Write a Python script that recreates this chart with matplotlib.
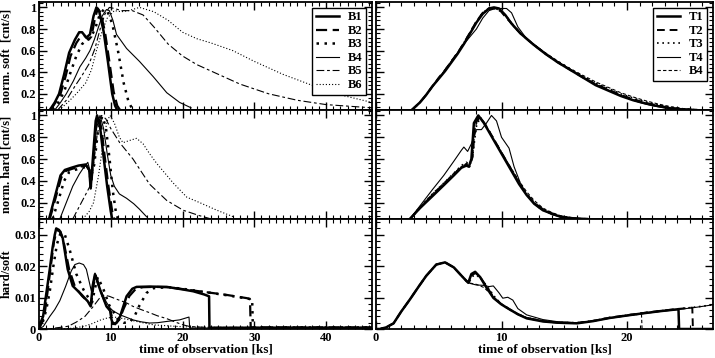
import matplotlib
matplotlib.use("Agg")
import matplotlib.pyplot as plt
from matplotlib.ticker import MultipleLocator

plt.rcParams["font.family"] = ["Liberation Serif", "DejaVu Serif"]
plt.rcParams["font.weight"] = "bold"
plt.rcParams["font.size"] = 9

# ============================================================
# Data: left column (B runs), time in ks
# ============================================================
b_names = ["B1", "B2", "B3", "B4", "B5", "B6"]

# normalised soft count rate
b1_soft_t = [1.5, 2.2, 2.8, 3.5, 4.2, 5.0, 5.6, 6.0, 6.6, 7.1, 7.6, 8.0, 8.4, 9.0, 9.6, 10.2, 10.6, 10.9]
b1_soft   = [0.05, 0.12, 0.2, 0.38, 0.58, 0.7, 0.77, 0.77, 0.72, 0.75, 0.92, 1.0, 0.96, 0.78, 0.5, 0.2, 0.09, 0.05]
b2_soft_t = [1.6, 2.3, 3.0, 3.7, 4.4, 5.2, 5.8, 6.3, 6.9, 7.3, 7.8, 8.2, 8.6, 9.2, 9.8, 10.4, 10.9, 11.3]
b2_soft   = [0.05, 0.12, 0.2, 0.36, 0.55, 0.67, 0.73, 0.74, 0.7, 0.73, 0.9, 0.99, 0.95, 0.77, 0.5, 0.22, 0.09, 0.05]
b3_soft_t = [1.9, 2.7, 3.5, 4.3, 5.2, 6.0, 6.6, 7.2, 7.8, 8.4, 9.0, 9.5, 10.2, 11.0, 11.8, 12.5, 13.1]
b3_soft   = [0.05, 0.12, 0.22, 0.38, 0.55, 0.66, 0.7, 0.72, 0.8, 0.92, 0.98, 0.97, 0.85, 0.6, 0.3, 0.12, 0.05]
b4_soft_t = [2.2, 3.0, 3.8, 4.8, 5.7, 6.5, 7.1, 7.7, 8.2, 8.8, 9.4, 9.8, 10.3, 10.8, 12.2, 14.0, 15.9, 17.8, 19.6, 21.2]
b4_soft   = [0.05, 0.12, 0.2, 0.32, 0.45, 0.53, 0.6, 0.7, 0.8, 0.92, 0.98, 0.97, 0.88, 0.75, 0.62, 0.5, 0.36, 0.21, 0.12, 0.07]
b5_soft_t = [2.6, 3.8, 5.0, 6.0, 7.0, 7.8, 8.6, 9.2, 9.8, 10.5, 11.5, 13.0, 14.5, 16.0, 18.0, 20.0, 22.0, 25.0, 28.0, 32.0, 36.0, 40.0, 46.4]
b5_soft   = [0.05, 0.14, 0.27, 0.37, 0.48, 0.62, 0.82, 0.94, 1.0, 0.99, 0.97, 0.97, 0.93, 0.82, 0.66, 0.55, 0.47, 0.38, 0.29, 0.2, 0.14, 0.1, 0.07]
b6_soft_t = [2.8, 4.0, 5.2, 6.5, 7.3, 8.0, 8.8, 9.5, 10.5, 11.5, 12.5, 14.0, 16.0, 18.0, 20.0, 22.0, 24.0, 27.0, 30.0, 34.0, 38.0, 42.0, 46.4]
b6_soft   = [0.05, 0.12, 0.2, 0.3, 0.42, 0.6, 0.78, 0.9, 0.97, 0.96, 0.97, 1.0, 0.96, 0.88, 0.77, 0.71, 0.67, 0.6, 0.5, 0.38, 0.28, 0.19, 0.12]

# normalised hard count rate
b1_hard_t = [1.4, 2.2, 3.0, 3.6, 4.5, 5.5, 6.5, 7.0, 7.2, 7.5, 7.9, 8.1, 8.5, 9.0, 9.5, 10.0, 10.2]
b1_hard   = [0.05, 0.25, 0.45, 0.5, 0.52, 0.54, 0.55, 0.5, 0.33, 0.6, 0.95, 1.0, 0.9, 0.62, 0.35, 0.12, 0.05]
b2_hard_t = [1.5, 2.3, 3.1, 3.7, 4.6, 5.6, 6.6, 7.0, 7.25, 7.6, 8.0, 8.3, 8.7, 9.2, 9.7, 10.2, 10.5]
b2_hard   = [0.05, 0.24, 0.43, 0.49, 0.51, 0.53, 0.54, 0.5, 0.35, 0.6, 0.93, 0.99, 0.88, 0.6, 0.34, 0.12, 0.05]
b3_hard_t = [1.9, 2.7, 3.5, 4.2, 5.0, 6.0, 6.8, 7.3, 7.7, 8.2, 8.8, 9.3, 9.8, 10.3, 10.7, 11.0]
b3_hard   = [0.05, 0.22, 0.4, 0.48, 0.5, 0.52, 0.53, 0.45, 0.55, 0.85, 0.99, 0.9, 0.62, 0.3, 0.12, 0.05]
b4_hard_t = [2.9, 3.8, 4.7, 5.6, 6.3, 6.8, 7.0, 7.2, 7.5, 8.0, 8.5, 9.0, 9.5, 10.0, 10.5, 11.2, 12.2, 13.2, 14.0, 15.0]
b4_hard   = [0.05, 0.2, 0.35, 0.46, 0.53, 0.57, 0.52, 0.33, 0.55, 0.88, 1.0, 0.88, 0.65, 0.45, 0.35, 0.28, 0.24, 0.19, 0.14, 0.07]
b5_hard_t = [4.7, 5.5, 6.3, 7.1, 7.6, 8.1, 8.7, 9.3, 10.0, 11.25, 13.1, 15.4, 17.8, 20.1, 22.4, 24.0]
b5_hard   = [0.05, 0.15, 0.25, 0.35, 0.55, 0.82, 1.0, 0.97, 0.88, 0.75, 0.6, 0.37, 0.22, 0.13, 0.08, 0.05]
b6_hard_t = [6.1, 7.0, 7.6, 8.3, 9.0, 9.5, 9.9, 10.5, 11.2, 11.7, 12.6, 13.6, 14.5, 15.4, 16.4, 18.7, 20.6, 22.4, 24.8, 27.1]
b6_hard   = [0.05, 0.12, 0.2, 0.45, 0.78, 0.95, 1.0, 0.93, 0.8, 0.75, 0.77, 0.79, 0.74, 0.65, 0.56, 0.38, 0.25, 0.2, 0.13, 0.07]

# hardness ratio
b1_hr_t = [0.0, 0.3, 0.57, 1.0, 1.5, 1.9, 2.2, 2.4, 2.8, 3.3, 4.0, 4.7, 5.9, 6.8, 7.2, 7.5, 7.8, 8.5, 9.4, 9.9, 10.1, 10.3, 10.8, 11.3, 12.2, 13.0, 13.6, 15.4, 17.8, 20.0, 21.5, 23.0, 23.7, 23.75, 46.4]
b1_hr   = [0.0, 0.0025, 0.004, 0.011, 0.019, 0.026, 0.030, 0.032, 0.0315, 0.029, 0.019, 0.0137, 0.011, 0.0088, 0.0072, 0.014, 0.0174, 0.0126, 0.0072, 0.006, 0.003, 0.0016, 0.002, 0.004, 0.0104, 0.0128, 0.0134, 0.0135, 0.0134, 0.0126, 0.012, 0.011, 0.0104, 0.0004, 0.0004]
b2_hr_t = [0.0, 0.4, 0.8, 1.2, 1.7, 2.1, 2.5, 3.0, 3.5, 4.2, 5.0, 6.0, 6.9, 7.25, 7.6, 7.9, 8.6, 9.5, 10.0, 10.3, 10.6, 11.2, 11.8, 12.6, 13.5, 14.5, 16.0, 18.0, 20.0, 23.0, 26.0, 29.0, 29.4, 29.5, 46.4]
b2_hr   = [0.0, 0.002, 0.005, 0.012, 0.021, 0.028, 0.0315, 0.031, 0.027, 0.019, 0.0135, 0.0105, 0.0085, 0.0075, 0.014, 0.017, 0.012, 0.007, 0.0055, 0.002, 0.0015, 0.003, 0.0065, 0.0105, 0.0128, 0.0133, 0.0134, 0.0133, 0.0127, 0.0118, 0.0109, 0.0098, 0.0095, 0.0005, 0.0005]
b3_hr_t = [0.0, 0.5, 1.0, 1.5, 2.0, 2.5, 3.0, 3.6, 4.3, 5.2, 6.2, 7.0, 7.4, 7.8, 8.2, 9.0, 9.8, 10.5, 11.0, 11.8, 12.5, 13.2, 14.0, 15.0, 16.0, 18.0, 20.0, 23.0, 26.0, 29.0, 29.7, 29.8, 46.4]
b3_hr   = [0.0, 0.002, 0.006, 0.012, 0.02, 0.027, 0.0305, 0.03, 0.025, 0.0175, 0.0125, 0.0095, 0.0085, 0.013, 0.0165, 0.0125, 0.0075, 0.005, 0.003, 0.002, 0.002, 0.0035, 0.0075, 0.0115, 0.013, 0.0133, 0.0128, 0.0118, 0.0108, 0.0097, 0.0094, 0.0005, 0.0005]
b4_hr_t = [0.0, 0.6, 1.5, 2.2, 2.9, 3.7, 4.5, 5.0, 5.6, 6.2, 6.6, 7.0, 7.3, 7.8, 8.5, 9.4, 9.9, 10.3, 11.3, 12.2, 13.1, 14.2, 15.4, 16.5, 17.8, 19.6, 20.6, 20.9, 21.0, 46.4]
b4_hr   = [0.0, 0.0008, 0.004, 0.0062, 0.009, 0.0135, 0.0185, 0.0205, 0.021, 0.0205, 0.019, 0.015, 0.012, 0.0178, 0.0125, 0.0085, 0.0067, 0.0058, 0.0045, 0.0037, 0.0029, 0.0023, 0.0019, 0.002, 0.0024, 0.0029, 0.0036, 0.0038, 0.0003, 0.0003]
b5_hr_t = [0.0, 1.5, 2.5, 3.3, 4.1, 5.2, 6.4, 7.5, 8.5, 9.1, 9.8, 10.8, 12.2, 13.1, 14.2, 15.4, 16.5, 17.8, 19.0, 20.1, 21.0, 22.4, 24.0, 46.4]
b5_hr   = [0.0, 0.0, 0.0004, 0.0006, 0.0009, 0.0022, 0.004, 0.007, 0.01, 0.0108, 0.0104, 0.0095, 0.0083, 0.0072, 0.0062, 0.0052, 0.0042, 0.0033, 0.0022, 0.0013, 0.0008, 0.0006, 0.0005, 0.0005]
b6_hr_t = [0.0, 3.0, 5.0, 6.5, 7.5, 8.5, 9.5, 10.5, 12.0, 14.0, 16.0, 20.0, 25.0, 46.4]
b6_hr   = [0.0, 0.0, 0.0003, 0.001, 0.0018, 0.0028, 0.0035, 0.0038, 0.0032, 0.0022, 0.0013, 0.0007, 0.0005, 0.0005]

# ============================================================
# Data: right column (T runs + B4 reference)
# ============================================================
t_names = ["T1", "T2", "T3", "T4", "B4"]

t1_soft_t = [2.85, 3.5, 4.0, 4.5, 5.0, 5.5, 6.0, 6.5, 7.0, 7.5, 8.0, 8.5, 9.0, 9.4, 9.8, 10.3, 10.8, 11.5, 12.5, 13.5, 14.5, 15.5, 16.5, 17.5, 18.5, 19.5, 20.5, 21.5, 22.5, 23.5, 24.5, 25.5]
t1_soft   = [0.05, 0.12, 0.19, 0.27, 0.34, 0.41, 0.49, 0.57, 0.66, 0.76, 0.86, 0.94, 0.99, 1.0, 0.99, 0.93, 0.85, 0.76, 0.66, 0.57, 0.49, 0.42, 0.35, 0.28, 0.23, 0.18, 0.14, 0.11, 0.085, 0.065, 0.055, 0.05]
t2_soft_t = [2.85, 3.5, 4.0, 4.5, 5.0, 5.5, 6.0, 6.5, 7.0, 7.5, 8.0, 8.5, 9.0, 9.5, 9.9, 10.4, 10.9, 11.5, 12.5, 13.5, 14.5, 15.5, 16.5, 17.5, 18.5, 19.5, 20.5, 21.5, 22.5, 23.5, 24.5, 25.5]
t2_soft   = [0.05, 0.12, 0.19, 0.27, 0.35, 0.42, 0.5, 0.58, 0.67, 0.77, 0.87, 0.95, 0.99, 0.99, 0.97, 0.9, 0.84, 0.76, 0.66, 0.57, 0.49, 0.42, 0.35, 0.29, 0.24, 0.19, 0.15, 0.115, 0.09, 0.07, 0.057, 0.05]
t3_soft_t = [2.85, 3.5, 4.0, 4.5, 5.0, 5.5, 6.0, 6.5, 7.0, 7.5, 8.0, 8.5, 9.0, 9.5, 10.0, 10.5, 11.0, 11.5, 12.5, 13.5, 14.5, 15.5, 16.5, 17.5, 18.5, 19.5, 20.5, 21.5, 22.5, 23.5, 24.5, 25.5]
t3_soft   = [0.05, 0.12, 0.19, 0.27, 0.34, 0.42, 0.5, 0.58, 0.67, 0.77, 0.87, 0.95, 0.99, 0.99, 0.96, 0.9, 0.82, 0.76, 0.66, 0.57, 0.5, 0.43, 0.36, 0.3, 0.25, 0.2, 0.16, 0.125, 0.095, 0.075, 0.06, 0.05]
t4_soft_t = [2.85, 3.5, 4.0, 4.5, 5.0, 5.5, 6.0, 6.5, 7.0, 7.5, 8.0, 8.5, 9.0, 9.5, 10.0, 10.4, 10.8, 11.3, 12.0, 13.0, 14.0, 15.0, 16.0, 17.0, 18.0, 19.0, 20.0, 21.0, 22.0, 23.0, 24.0, 25.0]
t4_soft   = [0.05, 0.12, 0.19, 0.27, 0.34, 0.42, 0.5, 0.58, 0.66, 0.73, 0.8, 0.9, 0.97, 0.99, 0.99, 0.99, 0.95, 0.82, 0.71, 0.62, 0.53, 0.46, 0.39, 0.32, 0.26, 0.21, 0.16, 0.12, 0.09, 0.07, 0.057, 0.05]
t5_soft_t = [2.85, 3.5, 4.0, 4.5, 5.0, 5.5, 6.0, 6.5, 7.0, 7.5, 8.0, 8.5, 9.0, 9.5, 10.0, 10.5, 11.0, 11.5, 12.5, 13.5, 14.5, 15.5, 16.5, 17.5, 18.5, 19.5, 20.5, 21.5, 22.5, 23.5, 24.5, 25.5, 26.0]
t5_soft   = [0.05, 0.12, 0.19, 0.27, 0.34, 0.42, 0.5, 0.58, 0.66, 0.76, 0.86, 0.94, 0.98, 0.99, 0.96, 0.9, 0.82, 0.76, 0.66, 0.58, 0.5, 0.43, 0.37, 0.31, 0.26, 0.21, 0.17, 0.135, 0.105, 0.08, 0.063, 0.053, 0.05]

t1_hard_t = [2.7, 3.5, 4.5, 5.4, 6.2, 6.8, 7.2, 7.4, 7.6, 7.8, 8.15, 8.6, 9.35, 10.0, 10.7, 11.4, 12.0, 12.6, 13.3, 14.0, 14.7, 15.8, 16.8]
t1_hard   = [0.05, 0.15, 0.26, 0.36, 0.45, 0.52, 0.54, 0.53, 0.6, 0.93, 1.0, 0.93, 0.78, 0.65, 0.51, 0.37, 0.27, 0.19, 0.13, 0.1, 0.07, 0.055, 0.05]
t2_hard_t = [2.7, 3.5, 4.5, 5.4, 6.2, 6.8, 7.2, 7.45, 7.7, 7.9, 8.25, 8.7, 9.4, 10.0, 10.7, 11.4, 12.0, 12.6, 13.3, 14.0, 14.7, 15.8, 16.8]
t2_hard   = [0.05, 0.15, 0.27, 0.37, 0.46, 0.53, 0.55, 0.53, 0.62, 0.92, 0.99, 0.92, 0.78, 0.66, 0.52, 0.38, 0.28, 0.2, 0.14, 0.1, 0.075, 0.056, 0.05]
t3_hard_t = [2.7, 3.5, 4.5, 5.4, 6.2, 6.8, 7.2, 7.5, 7.7, 8.0, 8.3, 8.8, 9.5, 10.1, 10.7, 11.4, 12.0, 12.6, 13.3, 14.0, 14.7, 15.8, 16.8]
t3_hard   = [0.05, 0.16, 0.28, 0.38, 0.47, 0.54, 0.57, 0.55, 0.63, 0.9, 0.98, 0.9, 0.76, 0.64, 0.52, 0.38, 0.28, 0.2, 0.14, 0.1, 0.075, 0.056, 0.05]
t4_hard_t = [2.7, 3.5, 4.5, 5.4, 6.2, 6.8, 7.0, 7.3, 7.6, 8.0, 8.4, 8.8, 9.2, 9.6, 10.0, 10.3, 10.6, 11.0, 11.5, 12.0, 13.0, 14.0, 15.0, 16.0]
t4_hard   = [0.05, 0.17, 0.32, 0.45, 0.58, 0.68, 0.71, 0.67, 0.74, 0.87, 0.87, 0.93, 1.0, 0.95, 0.8, 0.75, 0.7, 0.53, 0.38, 0.27, 0.15, 0.09, 0.06, 0.05]
t5_hard_t = [2.7, 3.5, 4.5, 5.4, 6.2, 6.8, 7.2, 7.4, 7.7, 7.9, 8.3, 8.8, 9.4, 10.0, 10.7, 11.4, 12.0, 12.6, 13.3, 14.0, 14.7, 15.8, 16.8]
t5_hard   = [0.05, 0.16, 0.28, 0.38, 0.47, 0.53, 0.56, 0.55, 0.62, 0.9, 0.99, 0.9, 0.77, 0.66, 0.53, 0.4, 0.3, 0.22, 0.15, 0.11, 0.08, 0.058, 0.05]

t1_hr_t = [0.0, 0.3, 0.8, 1.4, 2.0, 2.7, 3.4, 4.0, 4.8, 5.5, 6.2, 6.8, 7.2, 7.35, 7.6, 7.9, 8.3, 8.8, 9.35, 10.0, 10.7, 11.3, 12.0, 13.3, 14.5, 16.0, 17.3, 18.6, 20.0, 21.3, 22.7, 24.1, 24.15, 26.85]
t1_hr   = [0.0, 0.0, 0.0005, 0.0018, 0.0055, 0.0094, 0.0135, 0.0169, 0.0205, 0.0212, 0.0196, 0.017, 0.0153, 0.0147, 0.0175, 0.0182, 0.0165, 0.0132, 0.0099, 0.0078, 0.0061, 0.0047, 0.0034, 0.0024, 0.002, 0.0018, 0.0025, 0.0035, 0.0043, 0.005, 0.0057, 0.0063, 0.0, 0.0]
t2_hr_t = [0.0, 0.3, 0.8, 1.4, 2.0, 2.7, 3.4, 4.0, 4.8, 5.5, 6.2, 6.8, 7.2, 7.4, 7.65, 7.95, 8.35, 8.9, 9.4, 10.0, 10.7, 11.3, 12.0, 13.3, 14.5, 16.0, 17.3, 18.6, 20.0, 21.3, 22.7, 24.1, 25.2, 25.25, 26.85]
t2_hr   = [0.0, 0.0, 0.0005, 0.0018, 0.0055, 0.0094, 0.0135, 0.0169, 0.0205, 0.0212, 0.0196, 0.017, 0.0153, 0.0148, 0.0172, 0.0178, 0.0162, 0.013, 0.0099, 0.0078, 0.0061, 0.0047, 0.0035, 0.0025, 0.002, 0.0019, 0.0026, 0.0036, 0.0044, 0.0051, 0.0058, 0.0064, 0.0068, 0.0, 0.0]
t3_hr_t = [0.0, 0.3, 0.8, 1.4, 2.0, 2.7, 3.4, 4.0, 4.8, 5.5, 6.2, 6.8, 7.2, 7.4, 7.7, 8.0, 8.4, 9.0, 9.5, 10.0, 10.7, 11.3, 12.0, 13.3, 14.5, 16.0, 17.3, 18.6, 20.0, 21.3, 22.7, 24.1, 25.5, 26.85]
t3_hr   = [0.0, 0.0, 0.0005, 0.0018, 0.0055, 0.0094, 0.0135, 0.0169, 0.0205, 0.0212, 0.0196, 0.017, 0.0153, 0.0149, 0.0168, 0.0172, 0.0158, 0.0128, 0.01, 0.0079, 0.0062, 0.0048, 0.0036, 0.0026, 0.0021, 0.002, 0.0026, 0.0036, 0.0044, 0.0051, 0.0058, 0.0064, 0.007, 0.0077]
t4_hr_t = [0.0, 0.3, 0.8, 1.4, 2.0, 2.7, 3.4, 4.0, 4.8, 5.5, 6.2, 6.8, 7.2, 7.5, 8.0, 8.55, 9.0, 9.35, 9.8, 10.1, 10.5, 10.9, 11.3, 12.0, 13.3, 14.5, 16.0, 17.3, 18.6, 20.0, 21.3, 22.7, 24.1, 25.5, 26.85]
t4_hr   = [0.0, 0.0, 0.0005, 0.0018, 0.0055, 0.0094, 0.0135, 0.0169, 0.0205, 0.0212, 0.0196, 0.017, 0.0153, 0.0145, 0.014, 0.0139, 0.0135, 0.0137, 0.0115, 0.0098, 0.0101, 0.0092, 0.0065, 0.0045, 0.003, 0.0023, 0.002, 0.0025, 0.0034, 0.0042, 0.0049, 0.0056, 0.0062, 0.0069, 0.0077]
t5_hr_t = [0.0, 0.3, 0.8, 1.4, 2.0, 2.7, 3.4, 4.0, 4.8, 5.5, 6.2, 6.8, 7.2, 7.5, 8.0, 8.6, 9.3, 10.0, 10.7, 11.3, 12.0, 13.3, 14.5, 16.0, 17.3, 18.6, 20.0, 21.15, 21.2]
t5_hr   = [0.0, 0.0, 0.0005, 0.0018, 0.0055, 0.0094, 0.0135, 0.0169, 0.0205, 0.0212, 0.0196, 0.017, 0.0153, 0.0146, 0.0142, 0.0132, 0.0105, 0.008, 0.0062, 0.0048, 0.0036, 0.0026, 0.0021, 0.002, 0.0026, 0.0035, 0.0043, 0.0047, 0.0]

# ============================================================
# Line styles
# ============================================================
b_styles = [
    dict(color="black", lw=1.8, ls="-"),
    dict(color="black", lw=1.6, ls=(0, (5, 2.5))),
    dict(color="black", lw=1.8, ls=(0, (1, 2.2))),
    dict(color="black", lw=0.8, ls="-"),
    dict(color="black", lw=0.8, ls=(0, (7, 2.5, 2.5, 2.5))),
    dict(color="black", lw=0.8, ls=(0, (1, 1.8))),
]
t_styles = [
    dict(color="black", lw=1.8, ls="-"),
    dict(color="black", lw=1.4, ls=(0, (4, 2.5))),
    dict(color="black", lw=1.2, ls=(0, (1, 2.2))),
    dict(color="black", lw=0.8, ls="-"),
    dict(color="black", lw=0.8, ls=(0, (3, 2))),
]

b_soft = [(b1_soft_t, b1_soft), (b2_soft_t, b2_soft), (b3_soft_t, b3_soft),
          (b4_soft_t, b4_soft), (b5_soft_t, b5_soft), (b6_soft_t, b6_soft)]
b_hard = [(b1_hard_t, b1_hard), (b2_hard_t, b2_hard), (b3_hard_t, b3_hard),
          (b4_hard_t, b4_hard), (b5_hard_t, b5_hard), (b6_hard_t, b6_hard)]
b_hr = [(b1_hr_t, b1_hr), (b2_hr_t, b2_hr), (b3_hr_t, b3_hr),
        (b4_hr_t, b4_hr), (b5_hr_t, b5_hr), (b6_hr_t, b6_hr)]
t_soft = [(t1_soft_t, t1_soft), (t2_soft_t, t2_soft), (t3_soft_t, t3_soft),
          (t4_soft_t, t4_soft), (t5_soft_t, t5_soft)]
t_hard = [(t1_hard_t, t1_hard), (t2_hard_t, t2_hard), (t3_hard_t, t3_hard),
          (t4_hard_t, t4_hard), (t5_hard_t, t5_hard)]
t_hr = [(t1_hr_t, t1_hr), (t2_hr_t, t2_hr), (t3_hr_t, t3_hr),
        (t4_hr_t, t4_hr), (t5_hr_t, t5_hr)]

# ============================================================
# Figure & layout (3 x 2), panels touching
# ============================================================
W, H = 715, 358
fig = plt.figure(figsize=(W / 100, H / 100), dpi=100, facecolor="white")

def px_axes(x0, y0, x1, y1):
    return fig.add_axes([x0 / W, 1 - y1 / H, (x1 - x0) / W, (y1 - y0) / H])

rows = [(2, 110), (110, 219), (219, 329)]
left_x = (39, 372)
right_x = (376, 713)

axes_l = [px_axes(left_x[0], r[0], left_x[1], r[1]) for r in rows]
axes_r = [px_axes(right_x[0], r[0], right_x[1], r[1]) for r in rows]

for ax, series in zip(axes_l, [b_soft, b_hard, b_hr]):
    for (t, v), st, name in zip(series, b_styles, b_names):
        ax.plot(t, v, label=name, **st)

for ax, series in zip(axes_r, [t_soft, t_hard, t_hr]):
    for (t, v), st, name in zip(series, t_styles, t_names):
        ax.plot(t, v, label=name, **st)

# ============================================================
# Formatting
# ============================================================
for i, ax in enumerate(axes_l + axes_r):
    row = i % 3
    is_left = i < 3
    ax.set_xlim(0, 46.4 if is_left else 26.85)
    ax.xaxis.set_major_locator(MultipleLocator(10))
    ax.xaxis.set_minor_locator(MultipleLocator(1))
    if row < 2:
        ax.set_ylim(0.05, 1.05)
        ax.yaxis.set_major_locator(MultipleLocator(0.2))
        ax.yaxis.set_minor_locator(MultipleLocator(0.04))
        ax.yaxis.set_major_formatter(lambda v, p: "1" if abs(v - 1) < 1e-6 else f"{v:.1f}")
    else:
        ax.set_ylim(0, 0.035)
        ax.yaxis.set_major_locator(MultipleLocator(0.01))
        ax.yaxis.set_minor_locator(MultipleLocator(0.002))
        ax.yaxis.set_major_formatter(lambda v, p: "0" if abs(v) < 1e-9 else f"{v:.2f}")
    ax.tick_params(which="both", direction="in", top=True, right=True, labelsize=9, pad=2)
    ax.tick_params(which="major", length=6, width=1.0)
    ax.tick_params(which="minor", length=3, width=0.8)
    for s in ax.spines.values():
        s.set_linewidth(1.3)
    if row < 2:
        ax.tick_params(labelbottom=False)
    else:
        ax.set_xlabel("time of observation [ks]", fontweight="bold", fontsize=9.5, labelpad=0)
    if not is_left:
        ax.tick_params(labelleft=False)

ylabels = ["norm. soft  [cnt/s]", "norm. hard [cnt/s]", "hard/soft"]
for ax, lab in zip(axes_l, ylabels):
    ax.set_ylabel(lab, fontweight="bold", fontsize=9)
    ax.yaxis.set_label_coords(-0.08, 0.5)

leg_kw = dict(fancybox=False, edgecolor="black", framealpha=1, fontsize=9,
              handlelength=1.9, handletextpad=0.7, labelspacing=0.12,
              borderpad=0.3, borderaxespad=0.45)
lg = axes_l[0].legend(loc="upper right", **leg_kw)
lg.get_frame().set_linewidth(1.0)
lg = axes_r[0].legend(loc="upper right", **leg_kw)
lg.get_frame().set_linewidth(1.0)

fig.savefig("out.png", dpi=100, facecolor="white")
